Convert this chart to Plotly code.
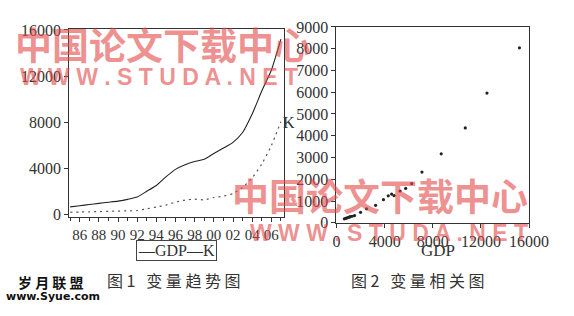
import plotly.graph_objects as go

years = list(range(1985, 2008))
gdp = [650, 750, 850, 950, 1050, 1150, 1300, 1500, 2000, 2500, 3250, 3900,
       4300, 4580, 4780, 5280, 5750, 6250, 7100, 8700, 10700, 12500, 15200]
k = [180, 200, 220, 240, 260, 280, 300, 330, 480, 640, 800, 1060,
     1240, 1320, 1250, 1460, 1580, 1800, 2330, 3170, 4360, 5960, 8040]

year_ticks = list(range(1986, 2007, 2))
year_labels = [str(y)[2:] for y in year_ticks]
left_yticks = [0, 4000, 8000, 12000, 16000]
right_yticks = list(range(0, 9001, 1000))
right_xticks = [0, 4000, 8000, 12000, 16000]

W, H = 574, 316
def px(x):
    return x / W
def py(y):
    return 1 - y / H

serif = "Liberation Serif"
cjk = "Noto Sans CJK SC"

fig = go.Figure()
fig.add_trace(go.Scatter(x=years, y=gdp, mode="lines", name="GDP",
                         line=dict(color="#222", width=1.1, shape="spline", smoothing=0.5),
                         xaxis="x", yaxis="y"))
fig.add_trace(go.Scatter(x=years, y=k, mode="lines", name="K",
                         line=dict(color="#555", width=1.2, dash="2px,4px", shape="spline", smoothing=0.5),
                         xaxis="x", yaxis="y"))
fig.add_trace(go.Scatter(x=gdp, y=k, mode="markers", name="scatter",
                         marker=dict(color="#222", size=3.2),
                         xaxis="x2", yaxis="y2"))

axis_common = dict(showgrid=False, zeroline=False, showline=True, linecolor="#333",
                   linewidth=1, mirror=True, ticks="outside", tickcolor="#333",
                   ticklen=4, tickfont=dict(family=serif, size=16, color="#333"))

fig.update_layout(
    width=W, height=H, margin=dict(l=0, r=0, t=0, b=0),
    paper_bgcolor="white", plot_bgcolor="white", showlegend=False,
    xaxis=dict(axis_common, domain=[px(68), px(292)], range=[1984.9, 2007.3],
               tickvals=year_ticks, ticktext=year_labels,
               tickfont=dict(family=serif, size=15, color="#333"),
               minor=dict(dtick=1, ticks="outside", ticklen=3, tickcolor="#333"),
               anchor="y"),
    yaxis=dict(axis_common, domain=[py(220.5), py(22)], range=[-200, 16100],
               tickvals=left_yticks, ticktext=[str(v) for v in left_yticks], anchor="x"),
    xaxis2=dict(axis_common, domain=[px(347), px(548)], range=[0, 16000],
                tickvals=right_xticks, ticktext=[str(v) for v in right_xticks], anchor="y2"),
    yaxis2=dict(axis_common, domain=[py(227), py(20)], range=[0, 9000],
                tickvals=right_yticks, ticktext=[str(v) for v in right_yticks], anchor="x2"),
)

ann = []
def text(x, y, s, size, family=serif, color="#333", **kw):
    ann.append(dict(x=px(x), y=py(y), xref="paper", yref="paper", text=s,
                    showarrow=False, xanchor="center", yanchor="middle",
                    font=dict(family=family, size=size, color=color), **kw))

text(297, 121, "K", 16)
text(453, 256, "GDP", 17)
text(180, 256.5, "—GDP—K", 16, bordercolor="#444", borderwidth=1, borderpad=1)
text(177, 287, "图 1   变 量 趋 势 图", 16, family=cjk)
text(432, 287, "图 2   变 量 相 关 图", 16, family=cjk)
text(49, 290, "<b>岁 月 联 盟</b>", 14, family=cjk, color="#111")
text(51, 305, "<b>www.Syue.com</b>", 11, family="DejaVu Sans", color="#111")

pink = "rgba(228,70,70,0.6)"
text(166, 38, "<b>中国论文下载中心</b>", 37, family=cjk, color=pink)
text(162, 73, "<b>W W W . S T U D A . N E T</b>", 23, family="Liberation Sans", color=pink)
text(392, 198, "<b>中国论文下载中心</b>", 37, family=cjk, color=pink)
text(402, 238, "<b>W W W . S T U D A . N E T</b>", 23, family="Liberation Sans", color=pink)

fig.update_layout(annotations=ann)
fig.write_html("out.html")
